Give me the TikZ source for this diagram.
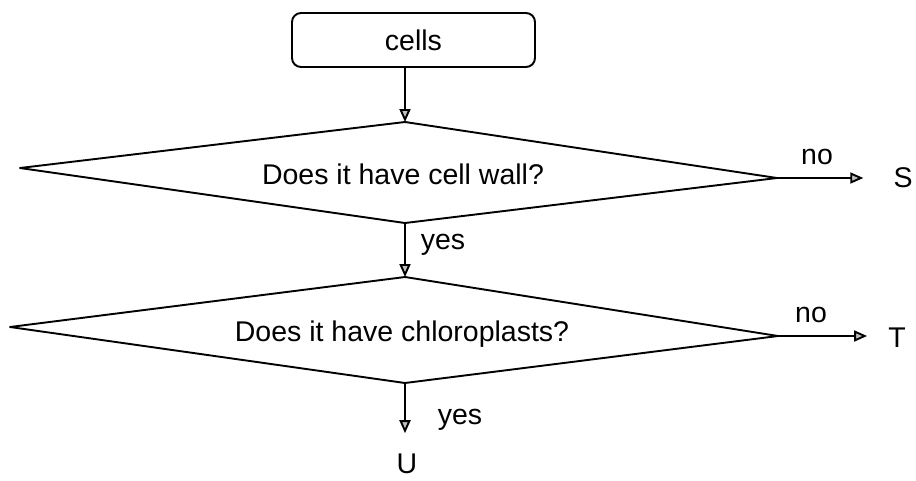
\documentclass[tikz,border=0pt]{standalone}
\usepackage{fontspec}
\setmainfont{Liberation Sans}
\usetikzlibrary{arrows.meta}
\begin{document}
\begin{tikzpicture}[x=1pt,y=-1pt,
  lbl/.style={font=\fontsize{28.5}{34}\selectfont, inner sep=0pt, anchor=base},
  ln/.style={line width=1.9pt},
  arr/.style={line width=1.9pt, -{Triangle[length=13pt,width=11pt,fill=gray!50]}}]
\useasboundingbox (0,0) rectangle (916,480);
% start box
\node[draw, ln, rounded corners=9pt, minimum width=243pt, minimum height=54pt,
      inner sep=0pt, font=\fontsize{28.5}{34}\selectfont] (cells) at (413.5,40) {cells};
% diamond 1 vertices
\coordinate (d1t) at (405,122);
\coordinate (d1r) at (777,178);
\coordinate (d1b) at (405,223);
\coordinate (d1l) at (20,168);
% diamond 2 vertices
\coordinate (d2t) at (405,277);
\coordinate (d2r) at (778,336);
\coordinate (d2b) at (405,383);
\coordinate (d2l) at (10,327);
\draw[ln, line join=round] (d1t) -- (d1r) -- (d1b) -- (d1l) -- cycle;
\draw[ln, line join=round] (d2t) -- (d2r) -- (d2b) -- (d2l) -- cycle;
\node[lbl] (q1) at (403,184) {Does it have cell wall?};
\node[lbl] (q2) at (402,341) {Does it have chloroplasts?};
% outcome letters
\node[lbl] (S) at (903,187) {S};
\node[lbl] (T) at (897,347) {T};
\node[lbl] (U) at (407,473) {U};
% labels
\node[lbl] (no1) at (817,164.5) {no};
\node[lbl] (no2) at (811,322.5) {no};
\node[lbl] (yes1) at (443,249) {yes};
\node[lbl] (yes2) at (460,424) {yes};
% connectors
\draw[arr] (cells.south -| d1t) -- (d1t);
\draw[arr] (d1b) -- (d2t);
\draw[arr, shorten >=30pt] (d1r) -- (d1r -| S.west);
\draw[arr, shorten >=21pt] (d2r) -- (d2r -| T.west);
\draw[arr, shorten >=20pt] (d2b) -- (d2b |- U.north);
\end{tikzpicture}
\end{document}
